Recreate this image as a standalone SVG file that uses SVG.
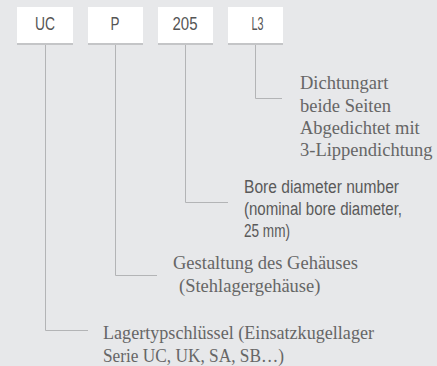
<svg xmlns="http://www.w3.org/2000/svg" width="437" height="366" viewBox="0 0 437 366">
<style>
.bg{fill:#e7e8ea}
.box{fill:#ffffff}
.sh{fill:#c4c5c7}
.lbl{font-family:"Liberation Sans",Arial,sans-serif;font-size:18px;fill:#555555;text-anchor:middle}
.sans{font-family:"Liberation Sans",Arial,sans-serif;font-size:18px;fill:#5a5a5a}
.serif{font-family:"Liberation Serif","Times New Roman",serif;font-size:18.5px;fill:#666666}
.conn{fill:none;stroke:#b3b4b6;stroke-width:1}
</style>
<rect class="bg" x="0" y="0" width="437" height="366"/>
<g id="connectors">
<path class="conn" d="M45.5 45 V330.5 H88"/>
<path class="conn" d="M115.5 45 V275.5 H157"/>
<path class="conn" d="M185.5 45 V202.5 H228"/>
<path class="conn" d="M255.5 45 V98.5 H282"/>
</g>
<g id="node-uc">
<rect class="sh" x="17" y="7" width="56" height="38"/>
<rect class="box" x="17" y="7" width="56" height="36"/>
<text class="lbl" x="45" y="30" textLength="20" lengthAdjust="spacingAndGlyphs">UC</text>
</g>
<g id="node-p">
<rect class="sh" x="88" y="7" width="55" height="38"/>
<rect class="box" x="88" y="7" width="55" height="36"/>
<text class="lbl" x="115" y="30" textLength="9" lengthAdjust="spacingAndGlyphs">P</text>
</g>
<g id="node-205">
<rect class="sh" x="158" y="7" width="55" height="38"/>
<rect class="box" x="158" y="7" width="55" height="36"/>
<text class="lbl" x="185" y="30" textLength="25" lengthAdjust="spacingAndGlyphs">205</text>
</g>
<g id="node-l3">
<rect class="sh" x="228" y="7" width="55" height="38"/>
<rect class="box" x="228" y="7" width="55" height="36"/>
<text class="lbl" x="257.5" y="30" textLength="12" lengthAdjust="spacingAndGlyphs">L3</text>
</g>
<g id="desc-l3">
<text class="serif" x="300" y="89">Dichtungart</text>
<text class="serif" x="300" y="111.5">beide Seiten</text>
<text class="serif" x="300" y="134">Abgedichtet mit</text>
<text class="serif" x="300" y="156">3-Lippendichtung</text>
</g>
<g id="desc-205">
<text class="sans" x="244" y="192.5" textLength="155" lengthAdjust="spacingAndGlyphs">Bore diameter number</text>
<text class="sans" x="244" y="215" textLength="158" lengthAdjust="spacingAndGlyphs">(nominal bore diameter,</text>
<text class="sans" x="244" y="237" textLength="46" lengthAdjust="spacingAndGlyphs">25 mm)</text>
</g>
<g id="desc-p">
<text class="serif" x="173" y="269">Gestaltung des Gehäuses</text>
<text class="serif" x="179" y="291.5">(Stehlagergehäuse)</text>
</g>
<g id="desc-uc">
<text class="serif" x="103" y="339" textLength="271" lengthAdjust="spacingAndGlyphs">Lagertypschlüssel (Einsatzkugellager</text>
<text class="serif" x="103" y="361.5" textLength="181" lengthAdjust="spacingAndGlyphs">Serie UC, UK, SA, SB…)</text>
</g>
</svg>
